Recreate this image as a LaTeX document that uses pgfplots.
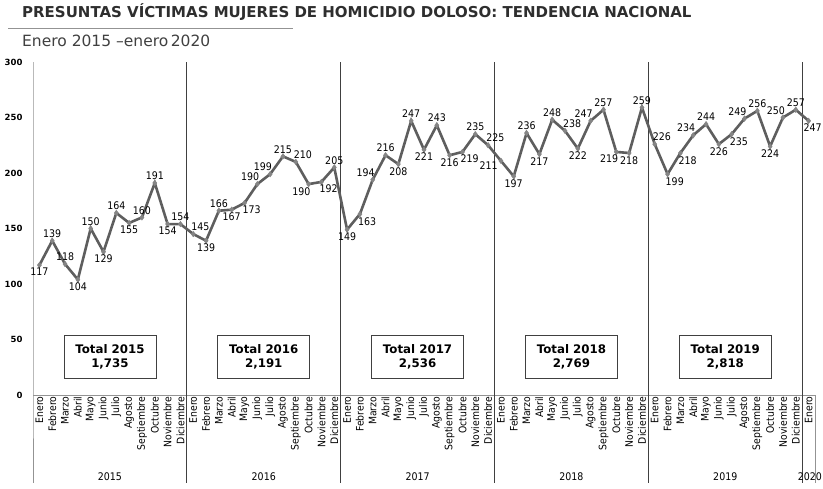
\documentclass[border=0pt]{standalone}
\usepackage{fontspec}
\setmainfont{DejaVu Sans}
\newfontfamily\condf{DejaVu Sans}[FakeStretch=0.9]
\usepackage{pgfplots}
\pgfplotsset{compat=1.18}
\usepackage{pgfplotstable}
\definecolor{titleg}{HTML}{2E2E2E}
\definecolor{subg}{HTML}{404040}
\definecolor{lineg}{HTML}{5E5E5E}
\definecolor{markg}{HTML}{858585}
\definecolor{axisg}{HTML}{939393}
\definecolor{sepg}{HTML}{404040}

\pgfplotstableread{
x y a
0 117 90
1 139 270
2 118 270
3 104 90
4 150 270
5 129 90
6 164 270
7 155 90
8 160 270
9 191 270
10 154 90
11 154 270
12 145 225
13 139 90
14 166 270
15 167 90
16 173 135
17 190 315
18 199 315
19 215 270
20 210 225
21 190 45
22 192 135
23 205 270
24 149 90
25 163 135
26 194 315
27 216 270
28 208 90
29 247 270
30 221 90
31 243 270
32 216 90
33 219 135
34 235 270
35 225 225
36 211 20
37 197 90
38 236 270
39 217 90
40 248 270
41 238 225
42 222 90
43 247 315
44 257 270
45 219 45
46 218 90
47 259 270
48 226 225
49 199 135
50 218 135
51 234 315
52 244 270
53 226 90
54 235 135
55 249 315
56 256 270
57 224 90
58 250 315
59 257 270
60 247 120
}\datatable

\tikzset{totbox/.style={draw=sepg, line width=0.8pt, fill=white, align=center, minimum width=92pt, minimum height=43pt, inner sep=2pt, font=\bfseries\fontsize{11.8}{14}\selectfont},
  yearlab/.style={font=\condf\fontsize{10.5}{11}\selectfont, yshift=-82pt},
  sepline/.style={sepg, line width=1pt},
  frameline/.style={axisg, line width=1pt}}

\begin{document}
\begin{tikzpicture}
\useasboundingbox (0,0) rectangle (823pt,-488pt);
\node[anchor=base west, inner sep=0, text=titleg, font=\bfseries\fontsize{15}{16}\selectfont] at (22pt,-17pt) {PRESUNTAS VÍCTIMAS MUJERES DE HOMICIDIO DOLOSO: TENDENCIA NACIONAL};
\draw[axisg, line width=0.8pt] (8pt,-28pt) -- (293pt,-28pt);
\node[anchor=base west, inner sep=0, text=subg, font=\fontsize{15.5}{17}\selectfont] at (22pt,-46pt) {Enero 2015 –enero\,2020};
\begin{axis}[
  at={(33pt,-395pt)}, anchor=south west,
  scale only axis, width=782pt, height=333pt,
  xmin=-0.5, xmax=60.5, ymin=0, ymax=300,
  axis line style={draw=none},
  major tick length=0pt,
  clip=false,
  /pgf/number format/assume math mode=true,
  ytick={0,50,...,300},
  yticklabel style={font=\bfseries\fontsize{8.5}{9}\selectfont, xshift=-7pt},
  xtick={0,...,60},
  xticklabels={Enero,Febrero,Marzo,Abril,Mayo,Junio,Julio,Agosto,Septiembre,Octubre,Noviembre,Diciembre,
    Enero,Febrero,Marzo,Abril,Mayo,Junio,Julio,Agosto,Septiembre,Octubre,Noviembre,Diciembre,
    Enero,Febrero,Marzo,Abril,Mayo,Junio,Julio,Agosto,Septiembre,Octubre,Noviembre,Diciembre,
    Enero,Febrero,Marzo,Abril,Mayo,Junio,Julio,Agosto,Septiembre,Octubre,Noviembre,Diciembre,
    Enero,Febrero,Marzo,Abril,Mayo,Junio,Julio,Agosto,Septiembre,Octubre,Noviembre,Diciembre,
    Enero},
  xticklabel style={rotate=90, anchor=east, inner sep=1.5pt, font=\condf\fontsize{10.3}{11}\selectfont},
]
% frame lines
\draw[frameline] (axis cs:-0.5,300) -- (axis cs:-0.5,0) -- ++(0pt,-88pt);
\draw[frameline] (axis cs:-0.5,0) -- (axis cs:60.5,0);
\draw[frameline] (axis cs:60.5,0) -- ++(0pt,-88pt);
\draw[sepline] (axis cs:11.5,300) -- (axis cs:11.5,0) -- ++(0pt,-88pt);
\draw[sepline] (axis cs:23.5,300) -- (axis cs:23.5,0) -- ++(0pt,-88pt);
\draw[sepline] (axis cs:35.5,300) -- (axis cs:35.5,0) -- ++(0pt,-88pt);
\draw[sepline] (axis cs:47.5,300) -- (axis cs:47.5,0) -- ++(0pt,-88pt);
\draw[sepline] (axis cs:59.5,300) -- (axis cs:59.5,0) -- ++(0pt,-88pt);
% year labels
\node[yearlab] at (axis cs:5.5,0) {2015};
\node[yearlab] at (axis cs:17.5,0) {2016};
\node[yearlab] at (axis cs:29.5,0) {2017};
\node[yearlab] at (axis cs:41.5,0) {2018};
\node[yearlab] at (axis cs:53.5,0) {2019};
\node[yearlab] at (axis cs:60.1,0) {2020};
% totals
\node[totbox] at (axis cs:5.5,34) {Total 2015\\1,735};
\node[totbox] at (axis cs:17.5,34) {Total 2016\\2,191};
\node[totbox] at (axis cs:29.5,34) {Total 2017\\2,536};
\node[totbox] at (axis cs:41.5,34) {Total 2018\\2,769};
\node[totbox] at (axis cs:53.5,34) {Total 2019\\2,818};
\addplot[color=lineg, line width=2.6pt, mark=diamond*, mark size=2.8pt,
  mark options={fill=markg, draw=markg, line width=0.4pt},
  point meta=explicit symbolic,
  visualization depends on={rawy \as \yv},
  nodes near coords={\pgfmathprintnumber{\yv}},
  every node near coord/.append style={anchor=\pgfplotspointmeta, inner sep=3pt, text=black,
     font=\condf\fontsize{10.5}{11}\selectfont},
] table[x=x, y=y, meta=a] {\datatable};
\end{axis}
\end{tikzpicture}
\end{document}
